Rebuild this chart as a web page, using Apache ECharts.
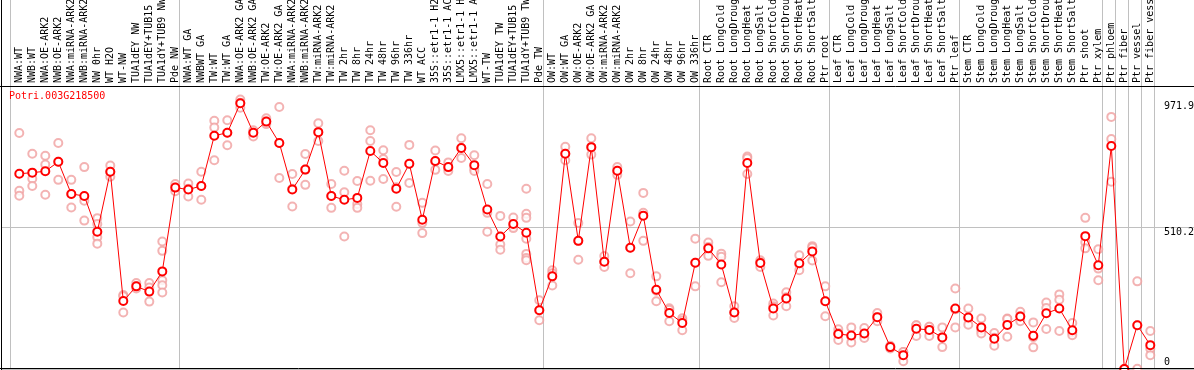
<!DOCTYPE html>
<html>
<head>
<meta charset="utf-8">
<script src="https://cdn.jsdelivr.net/npm/echarts@6/dist/echarts.min.js"></script>
<style>
html,body{margin:0;padding:0;background:#fff;}
#chart{width:1194px;height:370px;}
</style>
</head>
<body>
<div id="chart"></div>
<script>
var titleText = 'Potri.003G218500';

var categories = [
  'NWA:WT','NWB:WT','NWA:OE-ARK2','NWB:OE-ARK2','NWA:miRNA-ARK2','NWB:miRNA-ARK2','NW 0hr','WT H2O','WT-NW','TUA1dEY NW','TUA1dEY+TUB15 NW','TUA1dY+TUB9 NW','Pde NW',
  'NWA:WT GA','NWBWT GA','TW:WT','TW:WT GA','NWA:OE-ARK2 GA','NWB:OE-ARK2 GA','TW:OE-ARK2','TW:OE-ARK2 GA','NWA:miRNA-ARK2 GA','NWB:miRNA-ARK2 GA','TW:miRNA-ARK2','TW:miRNA-ARK2',
  'TW 2hr','TW 8hr','TW 24hr','TW 48hr','TW 96hr','TW 336hr','WT ACC','35S::etr1-1 H2O','35S::etr1-1 ACC','LMX5::etr1-1 H2O','LMX5::etr1-1 ACC','WT-TW','TUA1dEY TW','TUA1dEY+TUB15 TW','TUA1dY+TUB9 TW','Pde TW',
  'OW:WT','OW:WT GA','OW:OE-ARK2','OW:OE-ARK2 GA','OW:miRNA-ARK2','OW:miRNA-ARK2','OW 2hr','OW 8hr','OW 24hr','OW 48hr','OW 96hr','OW 336hr',
  'Root CTR','Root LongCold','Root LongDrought','Root LongHeat','Root LongSalt','Root ShortCold','Root ShortDrought','Root ShortHeat','Root ShortSalt','Ptr root',
  'Leaf CTR','Leaf LongCold','Leaf LongDrought','Leaf LongHeat','Leaf LongSalt','Leaf ShortCold','Leaf ShortDrought','Leaf ShortHeat','Leaf ShortSalt','Ptr leaf',
  'Stem CTR','Stem LongCold','Stem LongDrought','Stem LongHeat','Stem LongSalt','Stem ShortCold','Stem ShortDrought','Stem ShortHeat','Stem ShortSalt','Ptr shoot','Ptr xylem',
  'Ptr phloem','Ptr fiber','Ptr vessel','Ptr fiber vessel'
];

// index of first category of each group (plus the end)
var groupStarts = [0, 13, 41, 53, 63, 73, 84, 85, 86, 87, 88];

var meanValues = [
  704,708,713,747,631,624,495,711,245,298,279,352,654,
  647,660,841,852,958,852,892,815,647,719,854,624,610,617,786,743,650,740,538,750,728,797,735,575,478,523,491,212,
  334,776,462,800,387,715,437,553,286,202,166,383,
  435,377,204,743,382,218,254,381,424,244,
  126,121,128,187,79,50,145,141,114,218,
  186,150,109,159,189,120,201,218,140,479,374,
  804,0,158,86
];

var replicateValues = [
  [851,643,625],[776,686,660],[769,737,628],[815,747,682],[682,631,582],[728,607,535],[544,523,495,475,452],[734,711,693],[267,262,204],[310,298,290],[310,294,243],[460,426,320,302,276],[667,654,641],
  [669,650,622],[711,660,610],[895,871,753],[897,852,807],[971.9,960,942],[861,852,838],[904,892,883],[945,815,689],[703,650,586],[775,719,664],[886,854,822],[667,624,581],[715,637,478],[678,595,581],[861,822,679],[789,757,685],[710,655,585],[808,740,671],[599,527,490],[788,748,718],[745,725,714],[832,797,761],[771,722,714],[667,563,495],[552,449,430],[546,515,508],[650,560,545,470,415,400,392],[248,212,176],
  [356,345,301],[801,776,753],[526,462,394],[832,800,773],[407,387,368],[728,715,700],[532,437,345],[635,563,462],[334,282,244],[219,214,172],[183,175,140],[470,383,298],
  [456,440,408],[416,405,313],[226,204,184],[766,760,703],[392,385,368],[236,226,193],[277,259,226],[410,378,356],[443,438,391],[298,244,190],
  [143,130,105],[150,117,96],[148,124,112],[202,187,172],[84,79,74],[61,61,28],[158,158,119],[152,152,119],[150,114,79],[290,215,150],
  [218,182,160],[182,140,128],[130,113,84],[182,180,116],[206,190,172],[168,115,78],[240,220,144],[269,250,137],[166,132,122],[545,457,435],[432,362,320],
  [909,829,675],[0,0,0],[316,158,1],[137,73,50]
];

var yMaxLabel = 971.9;
var yMidLabel = 510.2;
var yTickLabels = [0, yMidLabel, yMaxLabel];
var yAxisMax = 1020.4;

var FONT = 'DejaVu Sans Mono';

var scatterData = [];
replicateValues.forEach(function (reps, i) {
  reps.forEach(function (v) { scatterData.push([i, v]); });
});

var chart = echarts.init(document.getElementById('chart'), null, {renderer: 'canvas'});

var option = {
  animation: false,
  backgroundColor: '#ffffff',
  title: {
    text: titleText,
    left: 9,
    top: 91,
    padding: 0,
    textStyle: {color: '#ff0000', fontFamily: FONT, fontSize: 10, fontWeight: 'normal'}
  },
  grid: [
    {left: 12.8, width: 1144, top: 86, bottom: 1, outerBoundsMode: 'none', containLabel: false},
    {left: 10.5, width: 1144, top: 0, bottom: 0, outerBoundsMode: 'none', containLabel: false},
    {left: 2, right: 0, top: 86, bottom: 1, outerBoundsMode: 'none', containLabel: false}
  ],
  xAxis: [
    {
      gridIndex: 0, type: 'category', data: categories, position: 'top', boundaryGap: true,
      axisLine: {show: false}, axisTick: {show: false}, splitLine: {show: false},
      axisLabel: {interval: 0, rotate: 90, margin: 3, color: '#000', fontFamily: FONT, fontSize: 10, hideOverlap: false}
    },
    {
      gridIndex: 1, type: 'category', data: categories, boundaryGap: true,
      axisLine: {show: false}, axisTick: {show: false}, axisLabel: {show: false},
      splitLine: {
        show: true,
        interval: function (idx) { return groupStarts.indexOf(idx) >= 0; },
        lineStyle: {color: '#c0c0c0', width: 1}
      }
    },
    {
      gridIndex: 2, type: 'value', min: 0, max: 1, show: false
    }
  ],
  yAxis: [
    {gridIndex: 0, type: 'value', min: 0, max: yAxisMax, show: false},
    {gridIndex: 1, type: 'value', min: 0, max: 1, show: false},
    {
      gridIndex: 2, type: 'value', min: 0, max: yAxisMax, interval: yMidLabel, position: 'right',
      axisLine: {show: false}, axisTick: {show: false},
      splitLine: {show: true, lineStyle: {color: '#c0c0c0', width: 1}},
      axisLabel: {
        inside: true, margin: 30, align: 'left', verticalAlign: 'middle',
        customValues: yTickLabels,
        color: '#000', fontFamily: FONT, fontSize: 10,
        formatter: function (v) {
          if (Math.abs(v) < 1e-6) return '{b|0}';
          if (Math.abs(v - yMaxLabel) < 1e-3) return '{t|' + yMaxLabel + '}';
          return '{m|' + yMidLabel + '}';
        },
        rich: {
          t: {padding: [14, 0, 0, 0], color: '#000', fontFamily: FONT, fontSize: 10},
          m: {padding: [10, 0, 0, 0], color: '#000', fontFamily: FONT, fontSize: 10},
          b: {padding: [0, 0, 14, 0], color: '#000', fontFamily: FONT, fontSize: 10}
        }
      }
    }
  ],
  series: [
    {
      type: 'scatter', xAxisIndex: 0, yAxisIndex: 0,
      data: scatterData,
      symbol: 'emptyCircle', symbolSize: 8, clip: false,
      itemStyle: {color: '#f0a0a0', borderColor: '#f0a0a0', borderWidth: 1.2},
      z: 2
    },
    {
      type: 'line', xAxisIndex: 0, yAxisIndex: 0,
      data: meanValues,
      symbol: 'emptyCircle', symbolSize: 8, showAllSymbol: true, clip: false,
      lineStyle: {color: '#ff0000', width: 1},
      itemStyle: {color: '#ff0000', borderColor: '#ff0000', borderWidth: 1.2},
      z: 3
    }
  ],
  graphic: [
    {type: 'line', shape: {x1: 1.5, y1: 0, x2: 1.5, y2: 370}, style: {stroke: '#000', lineWidth: 1}, z: 100},
    {type: 'line', shape: {x1: 0, y1: 86.5, x2: 1194, y2: 86.5}, style: {stroke: '#000', lineWidth: 1}, z: 100},
    {type: 'line', shape: {x1: 0, y1: 368.5, x2: 1194, y2: 368.5}, style: {stroke: '#000', lineWidth: 1}, z: 100}
  ]
};

chart.setOption(option);
</script>
</body>
</html>
